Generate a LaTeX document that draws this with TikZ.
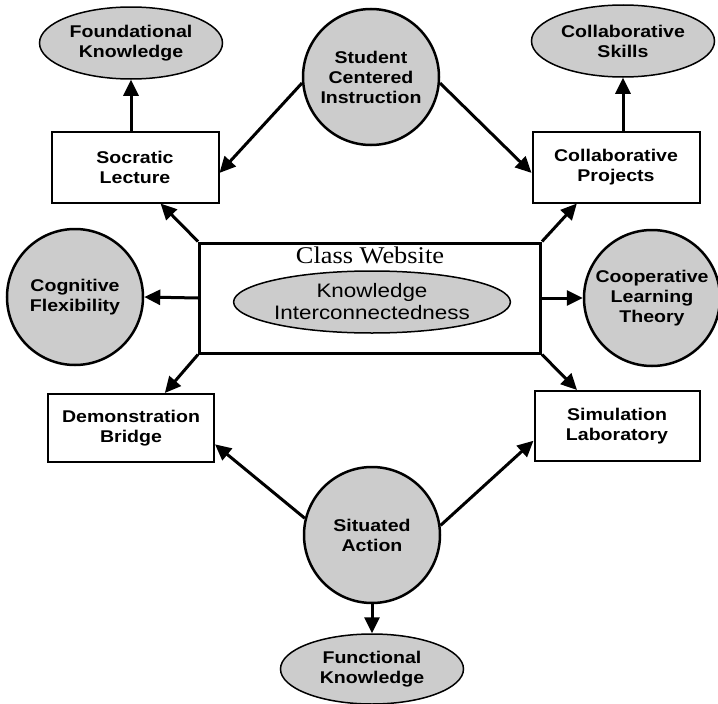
\documentclass[tikz,border=0pt]{standalone}
\usepackage{fontspec}
\setmainfont{Liberation Sans}[FakeStretch=1.15]
\newfontfamily\titlefont{Liberation Serif}[FakeStretch=1.1]
\usetikzlibrary{arrows.meta, shapes.geometric}

\begin{document}
\begin{tikzpicture}[x=1pt, y=-1pt, font=\fontsize{17}{20}\selectfont\bfseries]
    \definecolor{borderColour}{HTML}{000000}
    \definecolor{fillColour}{HTML}{CCCCCC}

    % Node and arrow styles
    \tikzset{
        bubble/.style={circle, draw=borderColour, fill=fillColour, line width=2.5pt, minimum size=136pt, inner sep=0pt, align=center},
        oval/.style={ellipse, draw=borderColour, fill=fillColour, line width=1.5pt, minimum width=183pt, minimum height=72pt, inner sep=0pt, align=center},
        card/.style={rectangle, draw=borderColour, fill=white, line width=2pt, minimum width=167pt, minimum height=71pt, inner sep=0pt, align=center},
        link/.style={draw=borderColour, line width=3pt, -{Triangle[length=16pt, width=15pt]}}
    }

    % Fix the page size
    \useasboundingbox (0,0) rectangle (718,704);

    % Draw the website box in the middle
    \node[rectangle, draw=borderColour, line width=3pt, minimum width=341pt, minimum height=110pt] (web) at (370,298) {};
    \node[below=2pt, font=\fontsize{24}{26}\selectfont\titlefont] (site) at (web.north) {Class Website};
    \node[oval, minimum width=211pt, minimum height=62pt, font=\fontsize{19.5}{22}\selectfont] (kic) at (372,302) {Knowledge\\Interconnectedness};

    % Draw the theory circles
    \node[bubble] (stud) at (371,77) {Student\\Centered\\Instruction};
    \node[bubble] (cog) at (75,297) {Cognitive\\Flexibility};
    \node[bubble] (coop) at (652,298) {Cooperative\\Learning\\Theory};
    \node[bubble] (sit) at (372,535) {Situated\\Action};

    % Draw the activity boxes
    \node[card] (soc) at (135,167) {Socratic\\Lecture};
    \node[card] (proj) at (616,167) {Collaborative\\Projects};
    \node[card, minimum width=166pt, minimum height=68pt] (demo) at (131,428) {Demonstration\\Bridge};
    \node[card, minimum width=165pt, minimum height=70pt] (sim) at (617,426) {Simulation\\Laboratory};

    % Draw the knowledge outcomes
    \node[oval] (found) at (131,43) {Foundational\\Knowledge};
    \node[oval] (skills) at (623,41) {Collaborative\\Skills};
    \node[oval, minimum height=70pt] (func) at (372,669) {Functional\\Knowledge};

    % Arrows out of the theory circles
    \draw[link] (stud.185) -- (soc.-4);
    \draw[link] (stud.-5) -- (proj.184);
    \draw[link] (sit.166) -- (demo.-11);
    \draw[link] (sit.8) -- (sim.190);
    \draw[link] (sit.south) -- (func.north);

    % Arrows out of the website box
    \draw[link] (web.north west) -- (soc.-55);
    \draw[link] (web.north east) -- (proj.-137);
    \draw[link] (web.south west) -- (demo.46);
    \draw[link] (web.south east) -- (sim.138);
    \draw[link] (web.west) -- (cog.east);
    \draw[link] (web.east) -- (coop.west);

    % Arrows up to the outcomes
    \draw[link] (found.south |- soc.north) -- (found.south);
    \draw[link] (skills.south |- proj.north) -- (skills.south);

\end{tikzpicture}
\end{document}
